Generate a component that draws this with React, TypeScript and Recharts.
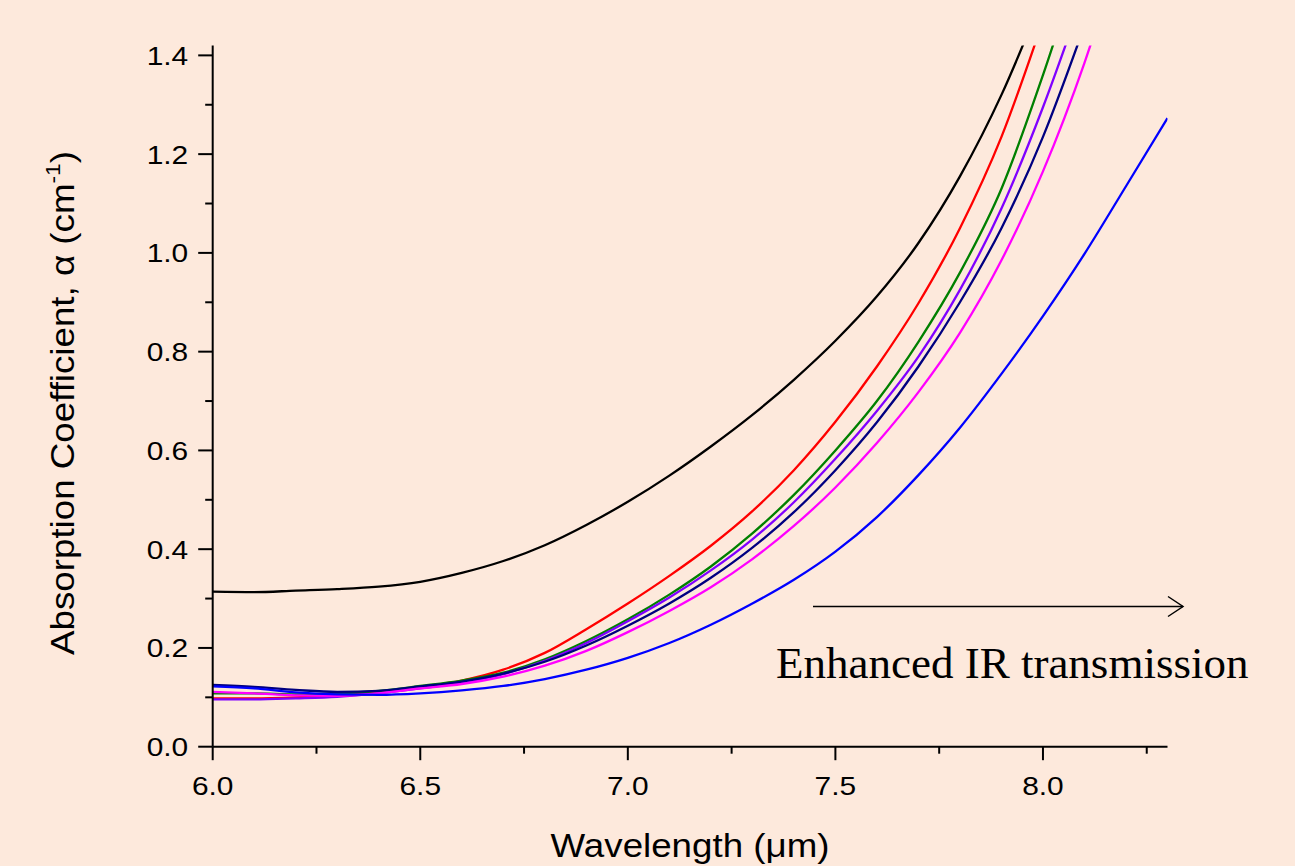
import React from "react";
import { LineChart, Line, XAxis, YAxis } from "recharts";

// wavelength grid (µm) and absorption coefficient (cm^-1) per sample
const lambda = [
  6.0, 6.1, 6.2, 6.3, 6.4, 6.5, 6.6, 6.7, 6.8, 6.9, 7.0, 7.1, 7.2, 7.3, 7.4,
  7.5, 7.6, 7.7, 7.8, 7.9, 8.0, 8.1, 8.2, 8.3,
];
const blackVals = [
  0.314, 0.313, 0.316, 0.319, 0.324, 0.334, 0.352, 0.376, 0.408, 0.449, 0.496,
  0.549, 0.608, 0.672, 0.743, 0.822, 0.912, 1.02, 1.155, 1.32, 1.52, null, null, null,
];
const redVals = [
  0.098, 0.098, 0.1, 0.104, 0.11, 0.121, 0.134, 0.156, 0.19, 0.238, 0.29,
  0.346, 0.407, 0.477, 0.56, 0.658, 0.77, 0.898, 1.05, 1.235, 1.47, null, null, null,
];
const greenVals = [
  0.108, 0.108, 0.106, 0.108, 0.113, 0.123, 0.134, 0.15, 0.177, 0.214, 0.258,
  0.308, 0.365, 0.432, 0.51, 0.6, 0.7, 0.82, 0.96, 1.13, 1.36, 1.62, null, null,
];
const purpleVals = [
  0.096, 0.096, 0.098, 0.101, 0.108, 0.118, 0.13, 0.147, 0.174, 0.21, 0.254,
  0.302, 0.357, 0.42, 0.495, 0.583, 0.68, 0.79, 0.925, 1.09, 1.295, 1.53, null, null,
];
const navyVals = [
  0.125, 0.121, 0.115, 0.111, 0.113, 0.122, 0.132, 0.148, 0.172, 0.205, 0.245,
  0.29, 0.342, 0.403, 0.475, 0.56, 0.657, 0.77, 0.9, 1.05, 1.235, 1.46, null, null,
];
const magentaVals = [
  0.111, 0.108, 0.104, 0.103, 0.108, 0.118, 0.127, 0.142, 0.164, 0.194, 0.232,
  0.275, 0.323, 0.38, 0.447, 0.525, 0.615, 0.718, 0.838, 0.985, 1.165, 1.385, 1.65, null,
];
const blueVals = [
  0.122, 0.118, 0.11, 0.106, 0.105, 0.108, 0.114, 0.123, 0.137, 0.156, 0.18,
  0.21, 0.247, 0.29, 0.338, 0.395, 0.465, 0.55, 0.646, 0.755, 0.872, 0.998, 1.135, 1.273,
];

const xTicks = [6.0, 6.25, 6.5, 6.75, 7.0, 7.25, 7.5, 7.75, 8.0, 8.25];
const yTicks = [0, 0.1, 0.2, 0.3, 0.4, 0.5, 0.6, 0.7, 0.8, 0.9, 1.0, 1.1, 1.2, 1.3, 1.4];

const series = [
  { key: "black", color: "#000000", vals: blackVals },
  { key: "red", color: "#ff0000", vals: redVals },
  { key: "green", color: "#008000", vals: greenVals },
  { key: "purple", color: "#8000ff", vals: purpleVals },
  { key: "navy", color: "#000080", vals: navyVals },
  { key: "magenta", color: "#ff00ff", vals: magentaVals },
  { key: "blue", color: "#0000ff", vals: blueVals },
];

const BG = "#fde9dc";
const SANS = "'Liberation Sans', Arial, sans-serif";

const toPoints = (vals: (number | null)[]) =>
  lambda
    .map((x, i) => ({ x, y: vals[i] }))
    .filter((p) => p.y !== null && p.y !== undefined);

// tick line + label drawn by hand so majors and minors can differ
const XTick = (props: any) => {
  const { x, y, payload } = props;
  const major = Math.round(payload.value * 4) % 2 === 0;
  return (
    <g>
      <line x1={x} x2={x} y1={y} y2={y + (major ? 13.5 : 7)} stroke="#000" strokeWidth={2} />
      {major && (
        <text
          transform={`translate(${x},${y + 48.5}) scale(1.15,1)`}
          textAnchor="middle"
          fontFamily={SANS}
          fontSize={26}
          fill="#000"
        >
          {payload.value.toFixed(1)}
        </text>
      )}
    </g>
  );
};

const YTick = (props: any) => {
  const { x, y, payload } = props;
  const major = Math.round(payload.value * 10) % 2 === 0;
  return (
    <g>
      <line x1={x - (major ? 14.5 : 7.5)} x2={x} y1={y} y2={y} stroke="#000" strokeWidth={2} />
      {major && (
        <text
          transform={`translate(${x - 24.5},${y + 9.5}) scale(1.15,1)`}
          textAnchor="end"
          fontFamily={SANS}
          fontSize={26}
          fill="#000"
        >
          {payload.value.toFixed(1)}
        </text>
      )}
    </g>
  );
};

export default function App() {
  return (
    <div
      style={{
        position: "absolute",
        left: 0,
        top: 0,
        width: 1295,
        height: 866,
        background: BG,
        overflow: "hidden",
      }}
    >
      <LineChart
        width={1295}
        height={866}
        margin={{ top: 45.5, right: 127.5, left: 152.7, bottom: 89.3 }}
      >
        <XAxis
          type="number"
          dataKey="x"
          domain={[6, 8.3]}
          allowDataOverflow
          ticks={xTicks}
          interval={0}
          height={30}
          tickSize={0}
          tickMargin={0}
          tickLine={false}
          axisLine={{ stroke: "#000", strokeWidth: 2 }}
          tick={<XTick />}
        />
        <YAxis
          type="number"
          dataKey="y"
          domain={[0, 1.42]}
          allowDataOverflow
          ticks={yTicks}
          interval={0}
          width={60}
          tickSize={0}
          tickMargin={0}
          tickLine={false}
          axisLine={{ stroke: "#000", strokeWidth: 2 }}
          tick={<YTick />}
        />
        {series.map((s) => (
          <Line
            key={s.key}
            data={toPoints(s.vals)}
            dataKey="y"
            type="monotone"
            stroke={s.color}
            strokeWidth={2.3}
            dot={false}
            activeDot={false}
            isAnimationActive={false}
          />
        ))}
      </LineChart>

      {/* axis titles and annotation */}
      <svg
        width={1295}
        height={866}
        style={{ position: "absolute", left: 0, top: 0, pointerEvents: "none" }}
      >
        <text
          transform="translate(690,857) scale(1.08,1)"
          textAnchor="middle"
          fontFamily={SANS}
          fontSize={34}
          fill="#000"
        >
          Wavelength (μm)
        </text>
        <text
          transform="translate(74,403) rotate(-90) scale(1.08,1)"
          textAnchor="middle"
          fontFamily={SANS}
          fontSize={34}
          fill="#000"
        >
          Absorption Coefficient, α (cm
          <tspan fontSize={21} dy={-14}>-1</tspan>
          <tspan dy={14}>)</tspan>
        </text>
        <line x1={813} y1={606.5} x2={1183} y2={606.5} stroke="#000" strokeWidth={1.5} />
        <polyline
          points="1168,596.5 1183,606.5 1168,616.5"
          fill="none"
          stroke="#000"
          strokeWidth={1.5}
        />
        <text
          x={776}
          y={678}
          fontFamily="'Liberation Serif', 'Times New Roman', serif"
          fontSize={45}
          fill="#000"
        >
          Enhanced IR transmission
        </text>
      </svg>
    </div>
  );
}
